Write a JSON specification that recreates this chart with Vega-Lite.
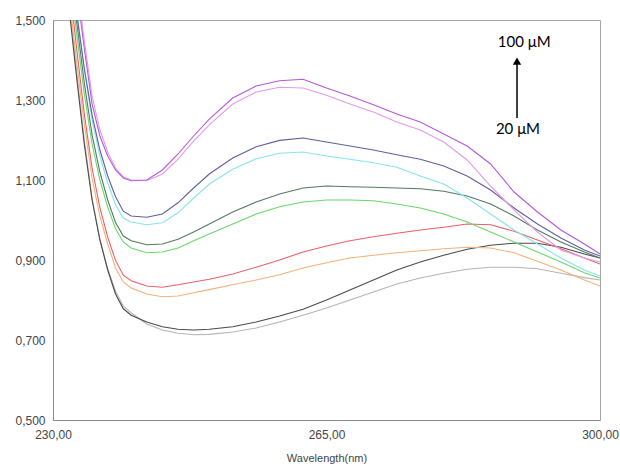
{
  "$schema": "https://vega.github.io/schema/vega-lite/v6.json",
  "width": 547,
  "height": 400,
  "autosize": {"type": "none"},
  "padding": {"left": 53, "top": 20, "right": 20, "bottom": 47},
  "background": "white",
  "config": {
    "view": {"stroke": "#a6a6a6", "strokeWidth": 1},
    "axis": {"labelFont": "Liberation Sans", "titleFont": "Liberation Sans", "labelColor": "#444", "titleColor": "#444", "domainColor": "#8a8a8a", "grid": false, "ticks": false, "labelFlush": false}
  },
  "datasets": {
    "spectra": [
      {"s":"l","x":231,"y":1.77},{"s":"l","x":232,"y":1.56},{"s":"l","x":233,"y":1.375},{"s":"l","x":234,"y":1.2},{"s":"l","x":235,"y":1.055},{"s":"l","x":236,"y":0.952},{"s":"l","x":237,"y":0.878},{"s":"l","x":238,"y":0.822},{"s":"l","x":239,"y":0.785},{"s":"l","x":240,"y":0.768},{"s":"l","x":242,"y":0.74},{"s":"l","x":244,"y":0.725},{"s":"l","x":246,"y":0.717},{"s":"l","x":248,"y":0.713},{"s":"l","x":250,"y":0.714},{"s":"l","x":253,"y":0.72},{"s":"l","x":256,"y":0.73},{"s":"l","x":259,"y":0.745},{"s":"l","x":262,"y":0.762},{"s":"l","x":265,"y":0.78},{"s":"l","x":268,"y":0.8},{"s":"l","x":271,"y":0.82},{"s":"l","x":274,"y":0.84},{"s":"l","x":277,"y":0.855},{"s":"l","x":280,"y":0.867},{"s":"l","x":283,"y":0.877},{"s":"l","x":286,"y":0.882},{"s":"l","x":289,"y":0.882},{"s":"l","x":292,"y":0.878},{"s":"l","x":295,"y":0.867},{"s":"l","x":298,"y":0.856},{"s":"l","x":300,"y":0.85},
      {"s":"k","x":231,"y":1.75},{"s":"k","x":232,"y":1.54},{"s":"k","x":233,"y":1.36},{"s":"k","x":234,"y":1.19},{"s":"k","x":235,"y":1.05},{"s":"k","x":236,"y":0.95},{"s":"k","x":237,"y":0.875},{"s":"k","x":238,"y":0.815},{"s":"k","x":239,"y":0.778},{"s":"k","x":240,"y":0.762},{"s":"k","x":242,"y":0.745},{"s":"k","x":244,"y":0.733},{"s":"k","x":246,"y":0.727},{"s":"k","x":248,"y":0.725},{"s":"k","x":250,"y":0.727},{"s":"k","x":253,"y":0.733},{"s":"k","x":256,"y":0.745},{"s":"k","x":259,"y":0.76},{"s":"k","x":262,"y":0.777},{"s":"k","x":265,"y":0.8},{"s":"k","x":268,"y":0.825},{"s":"k","x":271,"y":0.85},{"s":"k","x":274,"y":0.875},{"s":"k","x":277,"y":0.895},{"s":"k","x":280,"y":0.912},{"s":"k","x":283,"y":0.927},{"s":"k","x":286,"y":0.937},{"s":"k","x":289,"y":0.942},{"s":"k","x":292,"y":0.942},{"s":"k","x":295,"y":0.932},{"s":"k","x":298,"y":0.915},{"s":"k","x":300,"y":0.905},
      {"s":"o","x":231,"y":1.77},{"s":"o","x":232,"y":1.57},{"s":"o","x":233,"y":1.4},{"s":"o","x":234,"y":1.24},{"s":"o","x":235,"y":1.105},{"s":"o","x":236,"y":1.01},{"s":"o","x":237,"y":0.94},{"s":"o","x":238,"y":0.88},{"s":"o","x":239,"y":0.845},{"s":"o","x":240,"y":0.83},{"s":"o","x":242,"y":0.815},{"s":"o","x":244,"y":0.808},{"s":"o","x":246,"y":0.81},{"s":"o","x":248,"y":0.818},{"s":"o","x":250,"y":0.826},{"s":"o","x":253,"y":0.838},{"s":"o","x":256,"y":0.85},{"s":"o","x":259,"y":0.863},{"s":"o","x":262,"y":0.88},{"s":"o","x":265,"y":0.893},{"s":"o","x":268,"y":0.905},{"s":"o","x":271,"y":0.912},{"s":"o","x":274,"y":0.918},{"s":"o","x":277,"y":0.923},{"s":"o","x":280,"y":0.928},{"s":"o","x":283,"y":0.932},{"s":"o","x":286,"y":0.93},{"s":"o","x":289,"y":0.918},{"s":"o","x":292,"y":0.897},{"s":"o","x":295,"y":0.875},{"s":"o","x":298,"y":0.85},{"s":"o","x":300,"y":0.835},
      {"s":"r","x":231,"y":1.815},{"s":"r","x":232,"y":1.61},{"s":"r","x":233,"y":1.433},{"s":"r","x":234,"y":1.266},{"s":"r","x":235,"y":1.13},{"s":"r","x":236,"y":1.031},{"s":"r","x":237,"y":0.957},{"s":"r","x":238,"y":0.899},{"s":"r","x":239,"y":0.862},{"s":"r","x":240,"y":0.848},{"s":"r","x":242,"y":0.835},{"s":"r","x":244,"y":0.832},{"s":"r","x":246,"y":0.838},{"s":"r","x":248,"y":0.845},{"s":"r","x":250,"y":0.852},{"s":"r","x":253,"y":0.865},{"s":"r","x":256,"y":0.882},{"s":"r","x":259,"y":0.9},{"s":"r","x":262,"y":0.92},{"s":"r","x":265,"y":0.935},{"s":"r","x":268,"y":0.948},{"s":"r","x":271,"y":0.958},{"s":"r","x":274,"y":0.967},{"s":"r","x":277,"y":0.975},{"s":"r","x":280,"y":0.982},{"s":"r","x":283,"y":0.99},{"s":"r","x":286,"y":0.988},{"s":"r","x":289,"y":0.972},{"s":"r","x":292,"y":0.95},{"s":"r","x":295,"y":0.928},{"s":"r","x":298,"y":0.905},{"s":"r","x":300,"y":0.89},
      {"s":"g","x":231,"y":1.82},{"s":"g","x":232,"y":1.63},{"s":"g","x":233,"y":1.47},{"s":"g","x":234,"y":1.316},{"s":"g","x":235,"y":1.19},{"s":"g","x":236,"y":1.1},{"s":"g","x":237,"y":1.032},{"s":"g","x":238,"y":0.978},{"s":"g","x":239,"y":0.945},{"s":"g","x":240,"y":0.93},{"s":"g","x":242,"y":0.918},{"s":"g","x":244,"y":0.92},{"s":"g","x":246,"y":0.93},{"s":"g","x":248,"y":0.948},{"s":"g","x":250,"y":0.965},{"s":"g","x":253,"y":0.99},{"s":"g","x":256,"y":1.015},{"s":"g","x":259,"y":1.033},{"s":"g","x":262,"y":1.045},{"s":"g","x":265,"y":1.05},{"s":"g","x":268,"y":1.05},{"s":"g","x":271,"y":1.048},{"s":"g","x":274,"y":1.04},{"s":"g","x":277,"y":1.03},{"s":"g","x":280,"y":1.015},{"s":"g","x":283,"y":0.995},{"s":"g","x":286,"y":0.97},{"s":"g","x":289,"y":0.945},{"s":"g","x":292,"y":0.92},{"s":"g","x":295,"y":0.895},{"s":"g","x":298,"y":0.868},{"s":"g","x":300,"y":0.855},
      {"s":"d","x":231,"y":1.864},{"s":"d","x":232,"y":1.669},{"s":"d","x":233,"y":1.5},{"s":"d","x":234,"y":1.343},{"s":"d","x":235,"y":1.213},{"s":"d","x":236,"y":1.12},{"s":"d","x":237,"y":1.05},{"s":"d","x":238,"y":0.994},{"s":"d","x":239,"y":0.96},{"s":"d","x":240,"y":0.948},{"s":"d","x":242,"y":0.938},{"s":"d","x":244,"y":0.94},{"s":"d","x":246,"y":0.952},{"s":"d","x":248,"y":0.97},{"s":"d","x":250,"y":0.99},{"s":"d","x":253,"y":1.02},{"s":"d","x":256,"y":1.045},{"s":"d","x":259,"y":1.065},{"s":"d","x":262,"y":1.08},{"s":"d","x":265,"y":1.085},{"s":"d","x":268,"y":1.083},{"s":"d","x":271,"y":1.082},{"s":"d","x":274,"y":1.08},{"s":"d","x":277,"y":1.078},{"s":"d","x":280,"y":1.072},{"s":"d","x":283,"y":1.06},{"s":"d","x":286,"y":1.04},{"s":"d","x":289,"y":1.01},{"s":"d","x":292,"y":0.975},{"s":"d","x":295,"y":0.945},{"s":"d","x":298,"y":0.92},{"s":"d","x":300,"y":0.905},
      {"s":"c","x":231,"y":1.88},{"s":"c","x":232,"y":1.69},{"s":"c","x":233,"y":1.529},{"s":"c","x":234,"y":1.376},{"s":"c","x":235,"y":1.25},{"s":"c","x":236,"y":1.16},{"s":"c","x":237,"y":1.092},{"s":"c","x":238,"y":1.038},{"s":"c","x":239,"y":1.005},{"s":"c","x":240,"y":0.995},{"s":"c","x":242,"y":0.988},{"s":"c","x":244,"y":0.993},{"s":"c","x":246,"y":1.018},{"s":"c","x":248,"y":1.055},{"s":"c","x":250,"y":1.09},{"s":"c","x":253,"y":1.127},{"s":"c","x":256,"y":1.153},{"s":"c","x":259,"y":1.167},{"s":"c","x":262,"y":1.17},{"s":"c","x":265,"y":1.16},{"s":"c","x":268,"y":1.152},{"s":"c","x":271,"y":1.143},{"s":"c","x":274,"y":1.132},{"s":"c","x":277,"y":1.11},{"s":"c","x":280,"y":1.09},{"s":"c","x":283,"y":1.055},{"s":"c","x":286,"y":1.015},{"s":"c","x":289,"y":0.975},{"s":"c","x":292,"y":0.94},{"s":"c","x":295,"y":0.905},{"s":"c","x":298,"y":0.875},{"s":"c","x":300,"y":0.86},
      {"s":"b","x":231,"y":1.87},{"s":"b","x":232,"y":1.68},{"s":"b","x":233,"y":1.52},{"s":"b","x":234,"y":1.38},{"s":"b","x":235,"y":1.262},{"s":"b","x":236,"y":1.175},{"s":"b","x":237,"y":1.11},{"s":"b","x":238,"y":1.058},{"s":"b","x":239,"y":1.022},{"s":"b","x":240,"y":1.01},{"s":"b","x":242,"y":1.007},{"s":"b","x":244,"y":1.015},{"s":"b","x":246,"y":1.043},{"s":"b","x":248,"y":1.08},{"s":"b","x":250,"y":1.115},{"s":"b","x":253,"y":1.155},{"s":"b","x":256,"y":1.183},{"s":"b","x":259,"y":1.199},{"s":"b","x":262,"y":1.205},{"s":"b","x":265,"y":1.195},{"s":"b","x":268,"y":1.185},{"s":"b","x":271,"y":1.175},{"s":"b","x":274,"y":1.163},{"s":"b","x":277,"y":1.152},{"s":"b","x":280,"y":1.135},{"s":"b","x":283,"y":1.11},{"s":"b","x":286,"y":1.075},{"s":"b","x":289,"y":1.03},{"s":"b","x":292,"y":0.99},{"s":"b","x":295,"y":0.955},{"s":"b","x":298,"y":0.925},{"s":"b","x":300,"y":0.91},
      {"s":"p","x":231,"y":1.97},{"s":"p","x":232,"y":1.78},{"s":"p","x":233,"y":1.6},{"s":"p","x":234,"y":1.45},{"s":"p","x":235,"y":1.31},{"s":"p","x":236,"y":1.225},{"s":"p","x":237,"y":1.17},{"s":"p","x":238,"y":1.13},{"s":"p","x":239,"y":1.108},{"s":"p","x":240,"y":1.1},{"s":"p","x":242,"y":1.098},{"s":"p","x":244,"y":1.115},{"s":"p","x":246,"y":1.152},{"s":"p","x":248,"y":1.197},{"s":"p","x":250,"y":1.238},{"s":"p","x":253,"y":1.29},{"s":"p","x":256,"y":1.32},{"s":"p","x":259,"y":1.332},{"s":"p","x":262,"y":1.33},{"s":"p","x":265,"y":1.312},{"s":"p","x":268,"y":1.29},{"s":"p","x":271,"y":1.27},{"s":"p","x":274,"y":1.245},{"s":"p","x":277,"y":1.225},{"s":"p","x":280,"y":1.195},{"s":"p","x":283,"y":1.15},{"s":"p","x":286,"y":1.085},{"s":"p","x":289,"y":1.025},{"s":"p","x":292,"y":0.97},{"s":"p","x":295,"y":0.925},{"s":"p","x":298,"y":0.905},{"s":"p","x":300,"y":0.895},
      {"s":"m","x":231,"y":1.95},{"s":"m","x":232,"y":1.76},{"s":"m","x":233,"y":1.58},{"s":"m","x":234,"y":1.43},{"s":"m","x":235,"y":1.29},{"s":"m","x":236,"y":1.21},{"s":"m","x":237,"y":1.16},{"s":"m","x":238,"y":1.125},{"s":"m","x":239,"y":1.105},{"s":"m","x":240,"y":1.098},{"s":"m","x":242,"y":1.1},{"s":"m","x":244,"y":1.125},{"s":"m","x":246,"y":1.165},{"s":"m","x":248,"y":1.21},{"s":"m","x":250,"y":1.252},{"s":"m","x":253,"y":1.305},{"s":"m","x":256,"y":1.335},{"s":"m","x":259,"y":1.348},{"s":"m","x":262,"y":1.352},{"s":"m","x":265,"y":1.33},{"s":"m","x":268,"y":1.31},{"s":"m","x":271,"y":1.288},{"s":"m","x":274,"y":1.265},{"s":"m","x":277,"y":1.245},{"s":"m","x":280,"y":1.215},{"s":"m","x":283,"y":1.185},{"s":"m","x":286,"y":1.14},{"s":"m","x":289,"y":1.07},{"s":"m","x":292,"y":1.02},{"s":"m","x":295,"y":0.975},{"s":"m","x":298,"y":0.94},{"s":"m","x":300,"y":0.915}
    ],
    "labels": [
      {"x": 290.3, "y": 1.445, "t": "100 μM"},
      {"x": 289.5, "y": 1.2275, "t": "20 μM"}
    ],
    "arrow": [
      {"x": 289.38, "y": 1.255, "y2": 1.397}
    ]
  },
  "layer": [
    {
      "data": {"name": "spectra"},
      "mark": {"type": "line", "clip": true, "strokeWidth": 1.1, "interpolate": "linear"},
      "encoding": {
        "x": {"field": "x", "type": "quantitative", "scale": {"domain": [230, 300], "nice": false, "zero": false},
              "axis": {"values": [230, 265, 300], "labelExpr": "replace(format(datum.value, '.2f'), '.', ',')", "labelFontSize": 12, "labelPadding": 9, "title": "Wavelength(nm)", "titleFontSize": 11, "titleFontWeight": "normal", "titlePadding": 12}},
        "y": {"field": "y", "type": "quantitative", "scale": {"domain": [0.5, 1.5], "nice": false, "zero": false},
              "axis": {"values": [0.5, 0.7, 0.9, 1.1, 1.3, 1.5], "labelExpr": "replace(format(datum.value, '.3f'), '.', ',')", "labelFontSize": 12, "labelPadding": 8, "title": null}},
        "color": {"field": "s", "type": "nominal", "legend": null,
                  "scale": {"domain": ["l","k","o","r","g","d","c","b","p","m"],
                            "range": ["#b4b4b4","#4a4a4a","#f2b27a","#e8606a","#6ad86a","#557a60","#86e4f0","#5f5f9f","#e39be9","#b35ad8"]}},
        "detail": {"field": "s"}
      }
    },
    {
      "data": {"name": "arrow"},
      "mark": {"type": "rule", "color": "black", "strokeWidth": 1.5},
      "encoding": {
        "x": {"field": "x", "type": "quantitative"},
        "y": {"field": "y", "type": "quantitative"},
        "y2": {"field": "y2"}
      }
    },
    {
      "data": {"name": "arrow"},
      "mark": {"type": "point", "shape": "triangle-up", "filled": true, "color": "black", "size": 70, "opacity": 1},
      "encoding": {
        "x": {"field": "x", "type": "quantitative"},
        "y": {"field": "y2", "type": "quantitative"}
      }
    },
    {
      "data": {"name": "labels"},
      "mark": {"type": "text", "font": "Lato", "fontSize": 15, "color": "black", "align": "center", "baseline": "middle"},
      "encoding": {
        "x": {"field": "x", "type": "quantitative"},
        "y": {"field": "y", "type": "quantitative"},
        "text": {"field": "t"}
      }
    }
  ]
}
